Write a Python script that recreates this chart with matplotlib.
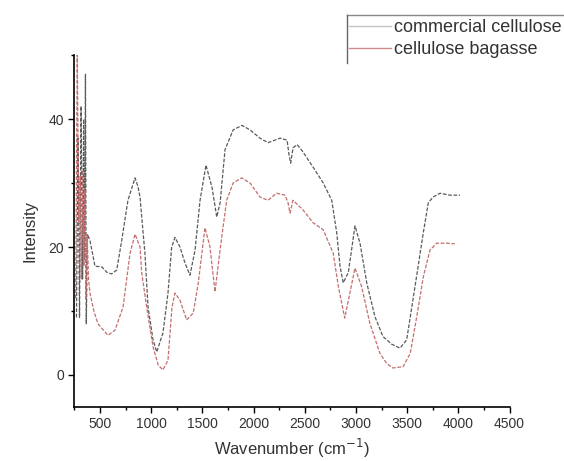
import matplotlib
matplotlib.use("Agg")
from matplotlib import pyplot as plt
from matplotlib.lines import Line2D
from matplotlib.ticker import MultipleLocator

plt.rcParams["font.family"] = ["Liberation Sans", "DejaVu Sans"]

# commercial cellulose spectrum
wn_commercial = [270, 285, 300, 315, 330, 340, 350, 358, 366, 378, 402, 451, 517, 570,
                 614, 663, 712, 773, 842, 870, 891, 910, 939, 969, 1018, 1054, 1115,
                 1164, 1200, 1232, 1281, 1330, 1379, 1428, 1477, 1535, 1594, 1640,
                 1673, 1721, 1800, 1887, 1965, 2063, 2141, 2258, 2327, 2345, 2362,
                 2385, 2425, 2476, 2580, 2680, 2763, 2812, 2844, 2875, 2925, 2990,
                 3039, 3105, 3185, 3264, 3350, 3430, 3495, 3576, 3657, 3706, 3752,
                 3820, 3918, 4015]
int_commercial = [9, 37, 9, 42, 15, 40, 18, 47, 8, 22, 21, 17, 16.9, 16,
                  15.8, 16.4, 21, 27.3, 30.8, 29.5, 27.8, 24.2, 19, 10.6, 5.5, 3.6, 6.6,
                  12.8, 20, 21.5, 20, 17.5, 15.6, 19.5, 27.3, 32.8, 29.3, 24.7,
                  26.9, 35.2, 38.3, 39, 38.3, 37, 36.3, 37, 36.7, 34.5, 33.1,
                  35.5, 36, 35, 32.5, 30, 27.3, 22.2, 17, 14.4, 16, 23.3,
                  20.6, 14.4, 9.1, 6, 4.8, 4.2, 5.5, 13.8, 22.2, 26.9, 27.8,
                  28.4, 28.1, 28.1]

# cellulose from bagasse
wn_bagasse = [262, 278, 292, 306, 318, 330, 342, 352, 362, 374, 388, 402, 440, 480,
              578, 646, 725, 793, 842, 891, 907, 956, 1018, 1070, 1115, 1164, 1203,
              1232, 1281, 1346, 1411, 1460, 1525, 1574, 1623, 1672, 1737, 1800,
              1884, 1965, 2063, 2141, 2225, 2307, 2335, 2356, 2385, 2482, 2580,
              2680, 2778, 2828, 2890, 2940, 2990, 3055, 3135, 3233, 3300, 3360,
              3460, 3530, 3593, 3657, 3722, 3788, 3885, 3966]
int_bagasse = [12, 50, 24, 31, 15, 32, 17, 29, 12, 22, 15, 12.8, 10, 8,
               6.2, 7, 10.6, 19, 22, 20, 16, 10.6, 4.4, 1.5, 0.8, 2.3, 10.6,
               12.8, 11.7, 8.6, 9.7, 14.4, 23, 20, 13, 19.5, 27.3, 30,
               30.8, 30, 27.8, 27.3, 28.4, 28.1, 27, 25.3, 27.3, 25.8, 23.8,
               22.7, 19, 13.8, 8.9, 12.8, 16.7, 13.8, 8.1, 3.4, 1.8, 1.1,
               1.3, 3.4, 9.1, 15.3, 19.5, 20.6, 20.6, 20.5]

labels = ["commercial cellulose", "cellulose bagasse"]

W, H = 564, 461
fig = plt.figure(figsize=(W / 100, H / 100), dpi=100)
ax = fig.add_axes([74.4 / W, 1 - 407 / H, (509.6 - 74.4) / W, (407 - 55) / H])

ax.plot(wn_commercial, int_commercial, color="#5a5a5a", lw=0.9, ls=(0, (3, 1.3)))
ax.plot(wn_bagasse, int_bagasse, color="#c46e6e", lw=0.9, ls=(0, (3, 1.3)))

ax.set_xlim(250, 4500)
ax.set_ylim(-5, 50)
ax.xaxis.set_minor_locator(MultipleLocator(250))
ax.yaxis.set_minor_locator(MultipleLocator(10))
ax.set_xticks([500, 1000, 1500, 2000, 2500, 3000, 3500, 4000, 4500])
ax.set_yticks([0, 20, 40])

for side in ["top", "right"]:
    ax.spines[side].set_visible(False)
for side in ["left", "bottom"]:
    ax.spines[side].set_linewidth(1.2)
ax.tick_params(which="major", direction="out", length=4, width=1, labelsize=10,
               labelcolor="#333333")
ax.tick_params(which="minor", direction="out", length=2.5, width=1)

ax.set_xlabel("Wavenumber (cm$^{-1}$)", fontsize=12, color="#333333", labelpad=4)
ax.set_ylabel("Intensity", fontsize=12, color="#333333", labelpad=8)

# legend, its box runs off the right edge of the figure
handles = [Line2D([], [], color="#c4c4c4", lw=1),
           Line2D([], [], color="#d08a8a", lw=1)]
fig.legend(handles, labels, loc="upper left", bbox_to_anchor=(349 / W, 1 - 19 / H),
           frameon=False, fontsize=13, handlelength=2.3, handletextpad=0.2,
           labelspacing=0.3, borderaxespad=0, borderpad=0, labelcolor="#333333")
fig.add_artist(Line2D([347 / W, 1.0], [1 - 15 / H, 1 - 15 / H],
                      transform=fig.transFigure, color="#888888", lw=1))
fig.add_artist(Line2D([347 / W, 347 / W], [1 - 15 / H, 1 - 63 / H],
                      transform=fig.transFigure, color="#666666", lw=1))

fig.savefig("out.png", dpi=100)
